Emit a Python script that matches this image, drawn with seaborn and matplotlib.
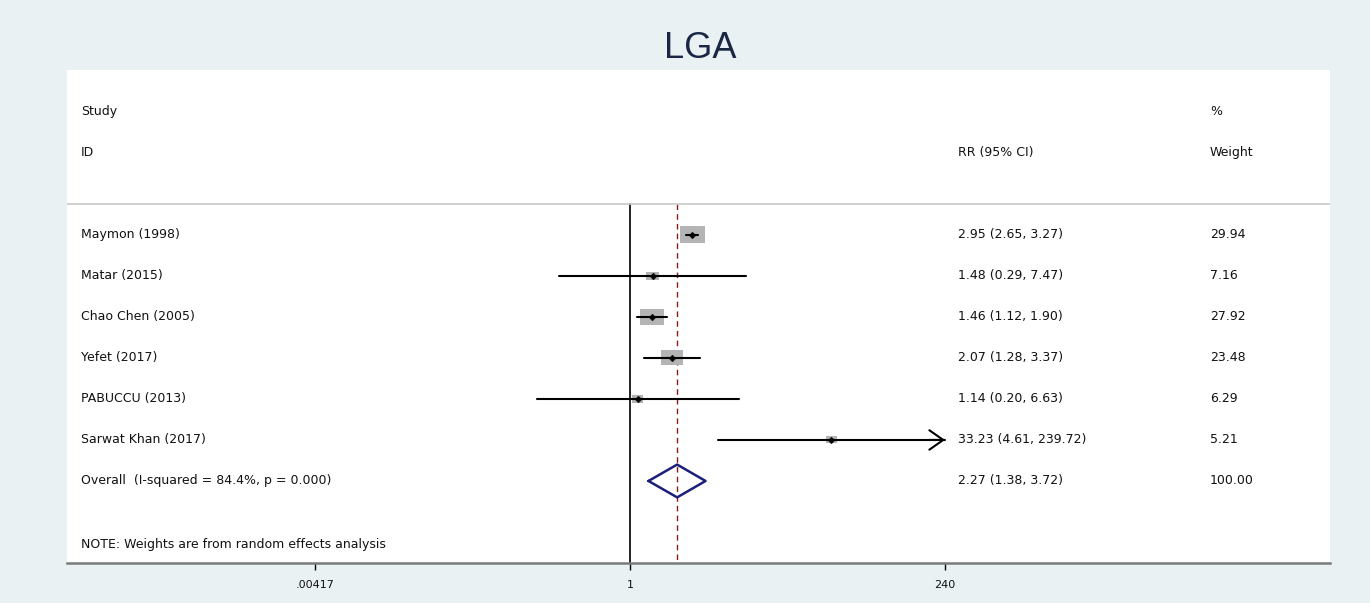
import numpy as np
import pandas as pd
import matplotlib
matplotlib.use('Agg')
import matplotlib.pyplot as plt
import matplotlib.transforms as mtransforms
from matplotlib.path import Path
import seaborn as sns

# -------------------------------
# DATA
# -------------------------------

studies = ['Maymon (1998)', 'Matar (2015)', 'Chao Chen (2005)', 'Yefet (2017)',
           'PABUCCU (2013)', 'Sarwat Khan (2017)']
rr = [2.95, 1.48, 1.46, 2.07, 1.14, 33.23]
ci_low = [2.65, 0.29, 1.12, 1.28, 0.20, 4.61]
ci_high = [3.27, 7.47, 1.90, 3.37, 6.63, 239.72]
weights = [29.94, 7.16, 27.92, 23.48, 6.29, 5.21]

overall_label = 'Overall  (I-squared = 84.4%, p = 0.000)'
overall_rr = 2.27
overall_low = 1.38
overall_high = 3.72

tick_values = [0.00417, 1, 240]
tick_labels = ['.00417', '1', '240']

df = pd.DataFrame({
    'study': studies,
    'rr': rr,
    'low': ci_low,
    'high': ci_high,
    'weight': weights,
})
df['row'] = np.arange(len(df))

# -------------------------------
# FIGURE
# -------------------------------

sns.set_style('white')
plt.rcParams['font.family'] = ['DejaVu Sans']

bg = '#e9f1f3'
W, H = 1370, 603
fig = plt.figure(figsize=(W / 100, H / 100), dpi=100, facecolor=bg)

left, right, top, bottom = 67, 1330, 70, 563
ax = fig.add_axes([left / W, (H - bottom) / H, (right - left) / W, (bottom - top) / H])
ax.set_facecolor('white')

# pixel -> ln(RR) scale: 1 at x=630, ~57.5 px per unit
px1, ppu = 630, 57.5
ax.set_xscale('log')
ax.set_xlim(np.exp((left - px1) / ppu), np.exp((right - px1) / ppu))
ax.set_ylim(8.0, -4.02)

# reference lines
ax.plot([1, 1], [-0.76, 8.0], color='black', lw=1.2, zorder=1)
ax.plot([overall_rr, overall_rr], [-0.76, 8.0], color='#8b1a1a', lw=1.0,
        dashes=(4, 3), zorder=1)
ax.axhline(-0.76, color='#c8c8c8', lw=1.2)

# weight boxes (wide rectangles, area ~ weight)
box = Path([[-1.5, -1], [1.5, -1], [1.5, 1], [-1.5, 1], [-1.5, -1]],
           [Path.MOVETO, Path.LINETO, Path.LINETO, Path.LINETO, Path.CLOSEPOLY])
size_map = {w: (4.6 * np.sqrt(w) / 1.389) ** 2 for w in weights}
sns.scatterplot(data=df, x='rr', y='row', size='weight', sizes=size_map,
                marker=box, color='#b4b4b4', edgecolor='none', legend=False,
                ax=ax, zorder=2)

# confidence intervals
for _, r in df.iterrows():
    ax.plot([r['low'], r['high']], [r['row'], r['row']], color='black', lw=1.5, zorder=3)
    if r['high'] > 200:
        ax.annotate('', xy=(r['high'], r['row']), xytext=(r['high'] * 0.75, r['row']),
                    arrowprops=dict(arrowstyle='->,head_length=1.0,head_width=0.7',
                                    color='black', lw=1.5, shrinkA=0, shrinkB=0),
                    zorder=3)

sns.scatterplot(data=df, x='rr', y='row', marker='D', s=12, color='black',
                edgecolor='black', legend=False, ax=ax, zorder=4)

# overall diamond
orow = len(df)
dx = [overall_low, overall_rr, overall_high, overall_rr, overall_low]
dy = [orow, orow - 0.4, orow, orow + 0.4, orow]
ax.plot(dx, dy, color='#1b1f7a', lw=1.8, zorder=3)

# -------------------------------
# TEXT COLUMNS
# -------------------------------

tr = mtransforms.blended_transform_factory(ax.transAxes, ax.transData)
fs = 9
tc = '#111111'
x_study = (81 - left) / (right - left)
x_rr = (958 - left) / (right - left)
x_w = (1210 - left) / (right - left)

def cell(x, y, s, size=fs):
    ax.text(x, y, s, transform=tr, fontsize=size, va='center', color=tc)

cell(x_study, -3.02, 'Study')
cell(x_study, -2.0, 'ID')
cell(x_rr, -2.0, 'RR (95% CI)')
cell(x_w, -3.02, '%')
cell(x_w, -2.0, 'Weight')

for _, r in df.iterrows():
    cell(x_study, r['row'], r['study'])
    cell(x_rr, r['row'], f"{r['rr']:.2f} ({r['low']:.2f}, {r['high']:.2f})")
    cell(x_w, r['row'], f"{r['weight']:.2f}")

cell(x_study, orow, overall_label)
cell(x_rr, orow, f"{overall_rr:.2f} ({overall_low:.2f}, {overall_high:.2f})")
cell(x_w, orow, f"{sum(weights):.2f}")

cell(x_study, 7.54, 'NOTE: Weights are from random effects analysis', size=9)

# -------------------------------
# AXES STYLE
# -------------------------------

for s in ['top', 'right', 'left']:
    ax.spines[s].set_visible(False)
ax.spines['bottom'].set_color('#7a7a7a')
ax.spines['bottom'].set_linewidth(1.8)

ax.set_yticks([])
ax.set_xticks(tick_values)
ax.set_xticklabels(tick_labels)
ax.xaxis.set_minor_locator(matplotlib.ticker.NullLocator())
ax.tick_params(axis='x', direction='out', length=5, width=1, color='black',
               labelsize=8, labelcolor=tc, pad=7, bottom=True)
ax.set_xlabel('')
ax.set_ylabel('')

fig.text(0.511, (H - 48) / H, 'LGA', ha='center', va='center', fontsize=26,
         color='#1a2744', family=['Liberation Sans'])

fig.savefig('out.png', dpi=100, facecolor=bg)
